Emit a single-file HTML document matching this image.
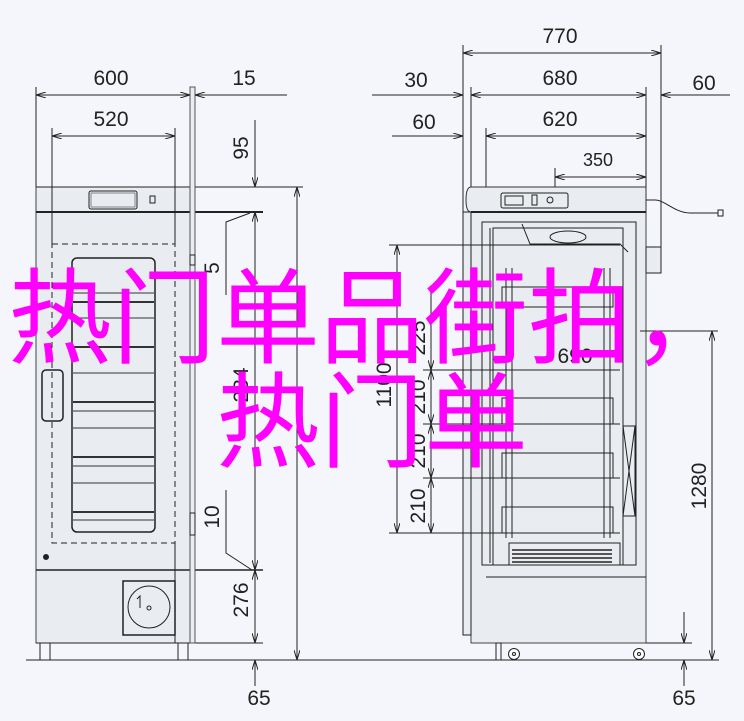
<!DOCTYPE html>
<html><head><meta charset="utf-8"><style>
html,body{margin:0;padding:0;background:#f5f6fb;}
#w{position:relative;width:744px;height:721px;overflow:hidden;background:#f5f6fb;}
svg{position:absolute;left:0;top:0}
.t{font-family:"Liberation Sans",sans-serif;font-size:21px;fill:#222;}
#p{position:absolute;left:0;top:258px;width:744px;text-align:center;color:#ff00ff;font-family:"Noto Sans CJK SC","WenQuanYi Zen Hei",sans-serif;font-size:104px;line-height:104px;white-space:nowrap;}
</style></head><body><div id="w">
<svg width="744" height="721" viewBox="0 0 744 721">
<defs>
<marker id="a" markerWidth="10" markerHeight="6" refX="10" refY="3" orient="auto-start-reverse" markerUnits="userSpaceOnUse"><path d="M0,0 L10,3 L0,6" fill="none" stroke="#222" stroke-width="1"/></marker>
</defs>
<g stroke="#222" stroke-width="1" fill="none">
<!-- LEFT UNIT -->
<rect x="36" y="187" width="154" height="456" fill="#e9ecf0" stroke="#444"/>
<line x1="36" y1="212" x2="263" y2="212" stroke-width="2"/>
<line x1="36" y1="187" x2="303" y2="187"/>
<line x1="36" y1="570" x2="263" y2="570" stroke-width="1.5"/>
<line x1="36" y1="643" x2="263" y2="643"/>
<rect x="190" y="87" width="5" height="556" fill="#e9ecf0" stroke="#555"/>
<rect x="190" y="255" width="5" height="10"/><rect x="190" y="513" width="5" height="22"/>
<rect x="89" y="191" width="48" height="18" rx="2"/>
<rect x="91" y="193" width="44" height="14" stroke-width=".5"/>
<rect x="150" y="196" width="5" height="7"/>
<rect x="52" y="244" width="123" height="299" stroke-dasharray="6,4"/>
<line x1="52" y1="128" x2="52" y2="244"/><line x1="175" y1="128" x2="175" y2="244"/>
<line x1="175" y1="543" x2="175" y2="643"/>
<line x1="36" y1="87" x2="36" y2="187"/>
<rect x="72" y="258" width="83" height="274" rx="5" stroke-width="1.5"/>
<g stroke="#333">
<line x1="73" y1="293" x2="154" y2="293"/><line x1="73" y1="302" x2="154" y2="302" stroke-width="2"/>
<line x1="73" y1="318" x2="154" y2="318"/><line x1="73" y1="347" x2="154" y2="347" stroke-width="2"/>
<line x1="73" y1="373" x2="154" y2="373"/><line x1="73" y1="402" x2="154" y2="402" stroke-width="2"/>
<line x1="73" y1="411" x2="154" y2="411"/><line x1="73" y1="428" x2="154" y2="428"/>
<line x1="73" y1="457" x2="154" y2="457" stroke-width="2"/><line x1="73" y1="466" x2="154" y2="466"/>
<line x1="73" y1="483" x2="154" y2="483"/><line x1="73" y1="512" x2="154" y2="512" stroke-width="2"/>
<line x1="73" y1="520" x2="154" y2="520"/>
</g>
<rect x="42" y="370" width="21" height="51" rx="4" stroke-width="1.5"/>
<circle cx="46" cy="557" r="2.5" fill="#222"/>
<rect x="123" y="581" width="52" height="54" stroke-width="1.5"/>
<circle cx="149" cy="607" r="21"/><circle cx="149" cy="608" r="2"/>
<path d="M137,599 l3,-3 v12"/>
<rect x="40" y="643" width="10" height="17"/><rect x="178" y="643" width="10" height="17"/>
<line x1="26" y1="660" x2="719" y2="660"/>
<!-- left dims -->
<line x1="36" y1="95" x2="190" y2="95" marker-start="url(#a)" marker-end="url(#a)"/>
<line x1="195" y1="95" x2="287" y2="95" marker-start="url(#a)"/>
<line x1="52" y1="136" x2="175" y2="136" marker-start="url(#a)" marker-end="url(#a)"/>
<line x1="255" y1="120" x2="255" y2="187" marker-end="url(#a)"/>
<line x1="255" y1="212" x2="255" y2="570" marker-start="url(#a)" marker-end="url(#a)"/>
<line x1="255" y1="570" x2="255" y2="643" marker-start="url(#a)" marker-end="url(#a)"/>
<line x1="255" y1="686" x2="255" y2="660" marker-end="url(#a)"/>
<polyline points="226,295 226,222 250,213"/>
<polyline points="226,490 226,553 252,570"/>
<line x1="297" y1="187" x2="297" y2="660" marker-start="url(#a)" marker-end="url(#a)"/>
<!-- RIGHT UNIT -->
<line x1="463" y1="45" x2="463" y2="635"/><line x1="661" y1="45" x2="661" y2="272"/>
<line x1="471" y1="87" x2="471" y2="212"/><line x1="646" y1="87" x2="646" y2="187"/>
<line x1="486" y1="128" x2="486" y2="220"/><line x1="555" y1="168" x2="555" y2="360"/>
<line x1="463" y1="53" x2="661" y2="53" marker-start="url(#a)" marker-end="url(#a)"/>
<line x1="372" y1="95" x2="463" y2="95" marker-end="url(#a)"/>
<line x1="471" y1="95" x2="646" y2="95" marker-start="url(#a)" marker-end="url(#a)"/>
<line x1="730" y1="95" x2="661" y2="95" marker-end="url(#a)"/>
<line x1="392" y1="136" x2="463" y2="136" marker-end="url(#a)"/>
<line x1="486" y1="136" x2="646" y2="136" marker-start="url(#a)" marker-end="url(#a)"/>
<line x1="555" y1="177" x2="646" y2="177" marker-start="url(#a)" marker-end="url(#a)"/>
<rect x="471" y="212" width="175" height="431" fill="#e9ecf0" stroke="#444"/>
<path d="M471,187 H646 V212 H471 Q466,212 466,200 Q466,187 471,187Z" fill="#e9ecf0" stroke="#333"/>
<line x1="471" y1="212" x2="646" y2="212" stroke-width="2"/>
<rect x="501" y="193" width="67" height="15" rx="2"/><rect x="505" y="196" width="18" height="9"/>
<rect x="532" y="195" width="5" height="10"/><circle cx="550" cy="200" r="3"/>
<path d="M646,200 H655 C665,200 675,213 690,213 H718"/><rect x="718" y="210" width="5" height="6"/>
<rect x="646" y="247" width="15" height="26" fill="#e9ecf0"/>
<rect x="463" y="212" width="8" height="423" fill="#e9ecf0"/>
<rect x="482" y="222" width="154" height="343" fill="#e9ecf0"/>
<line x1="490" y1="228" x2="490" y2="563"/><rect x="493" y="228" width="130" height="337"/>
<path d="M522,224 l8,20 H620 l8,8"/><ellipse cx="568" cy="237" rx="18" ry="6"/>
<line x1="486" y1="577" x2="646" y2="577"/>
<g fill="#e9ecf0"><rect x="502" y="287" width="111" height="20"/>
<rect x="502" y="398" width="111" height="26"/><rect x="502" y="453" width="111" height="25"/><rect x="502" y="507" width="111" height="26"/></g>
<line x1="506" y1="268" x2="506" y2="538"/><line x1="512" y1="268" x2="512" y2="538"/>
<line x1="604" y1="268" x2="604" y2="538"/><line x1="610" y1="268" x2="610" y2="538"/>
<rect x="623" y="426" width="12" height="90"/><path d="M623,426 L635,516 M635,426 L623,516"/>
<rect x="509" y="543" width="111" height="22"/>
<g stroke-width="2" stroke="#555"><path d="M512,550h100M512,554h100M512,558h100M512,562h100"/></g>
<line x1="389" y1="245" x2="620" y2="245"/>
<line x1="423" y1="370" x2="620" y2="370"/><line x1="423" y1="424" x2="620" y2="424"/>
<line x1="423" y1="478" x2="620" y2="478"/><line x1="389" y1="533" x2="620" y2="533"/>
<line x1="397" y1="245" x2="397" y2="533" marker-start="url(#a)" marker-end="url(#a)"/>
<line x1="431" y1="290" x2="431" y2="370" marker-end="url(#a)"/>
<line x1="431" y1="370" x2="431" y2="424" marker-start="url(#a)" marker-end="url(#a)"/>
<line x1="431" y1="424" x2="431" y2="478" marker-start="url(#a)" marker-end="url(#a)"/>
<line x1="431" y1="478" x2="431" y2="533" marker-start="url(#a)" marker-end="url(#a)"/>
<line x1="640" y1="331" x2="718" y2="331"/>
<line x1="712" y1="331" x2="712" y2="660" marker-start="url(#a)" marker-end="url(#a)"/>
<line x1="646" y1="643" x2="692" y2="643"/>
<line x1="684" y1="612" x2="684" y2="643" marker-end="url(#a)"/>
<line x1="684" y1="686" x2="684" y2="660" marker-end="url(#a)"/>
<circle cx="514" cy="654" r="5.5" fill="#fff"/><circle cx="514" cy="654" r="1.5"/>
<circle cx="639" cy="654" r="5.5" fill="#fff"/><circle cx="639" cy="654" r="1.5"/>
<rect x="496" y="643" width="5" height="17"/>
</g>
<g class="t" text-anchor="middle">
<text x="111" y="85" class="t">600</text><text x="244" y="85" class="t">15</text>
<text x="111" y="126" class="t">520</text>
<text x="560" y="43" class="t">770</text><text x="560" y="85" class="t">680</text>
<text x="416" y="87" class="t">30</text><text x="704" y="90" class="t">60</text>
<text x="424" y="129" class="t">60</text><text x="560" y="126" class="t">620</text>
<text x="598" y="166" class="t" style="font-size:18px">350</text>
<text x="259" y="705" class="t">65</text><text x="684" y="705" class="t">65</text>
<text class="t" transform="translate(248,148) rotate(-90)">95</text>
<text class="t" transform="translate(219,268) rotate(-90)">5</text>
<text class="t" transform="translate(248,385) rotate(-90)">234</text>
<text class="t" transform="translate(219,517) rotate(-90)">10</text>
<text class="t" transform="translate(248,600) rotate(-90)">276</text>
<text class="t" transform="translate(425,338) rotate(-90)">225</text>
<text class="t" transform="translate(391,385) rotate(-90)">1100</text>
<text class="t" transform="translate(425,397) rotate(-90)">210</text>
<text class="t" transform="translate(425,451) rotate(-90)">210</text>
<text class="t" transform="translate(425,506) rotate(-90)">210</text>
<text class="t" transform="translate(706,486) rotate(-90)">1280</text>
<text x="575" y="363" class="t">690</text>
</g>
</svg>
<div id="p">热门单品街拍，<br>热门单</div>
</div></body></html>
